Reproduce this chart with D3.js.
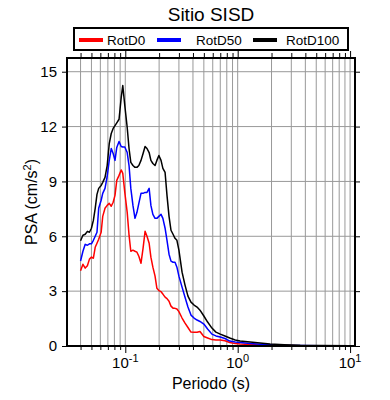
<!DOCTYPE html>
<html>
<head>
<meta charset="utf-8">
<script src="https://cdn.jsdelivr.net/npm/d3@7"></script>
<style>
body { margin: 0; background: #fff; }
text { font-family: "Liberation Sans", Arial, Helvetica, sans-serif; fill: #000; }
</style>
</head>
<body>
<div id="grafica"></div>
<script>
// datos (periodo en s, PSA en cm/s2)
const periods = [0.040, 0.042, 0.044, 0.046, 0.048, 0.050, 0.052, 0.054, 0.056, 0.058,
    0.061, 0.063, 0.066, 0.069, 0.072, 0.075, 0.078, 0.081, 0.084, 0.088,
    0.092, 0.095, 0.099, 0.104, 0.108, 0.112, 0.117, 0.122, 0.127, 0.132,
    0.138, 0.144, 0.150, 0.156, 0.163, 0.169, 0.176, 0.184, 0.191, 0.199,
    0.208, 0.216, 0.226, 0.235, 0.245, 0.255, 0.266, 0.277, 0.288, 0.300,
    0.320, 0.340, 0.361, 0.384, 0.409, 0.435, 0.462, 0.50, 0.54, 0.59,
    0.64, 0.70, 0.77, 0.85, 0.95, 1.05, 1.29, 1.58, 1.94, 2.6,
    3.6, 5.4, 10]

const rotD0 = [4.12, 4.47, 4.26, 4.39, 4.75, 4.86, 4.80, 5.40, 5.62, 5.84,
    6.22, 7.09, 7.53, 7.69, 7.80, 7.64, 7.86, 8.24, 9.06, 9.33,
    9.63, 9.44, 8.40, 7.31, 6.06, 5.18, 5.24, 5.18, 5.13, 4.91,
    4.53, 5.35, 6.27, 6.00, 5.62, 4.86, 4.31, 3.82, 3.16, 3.03,
    2.97, 2.84, 2.67, 2.59, 2.45, 2.18, 2.07, 2.06, 2.02, 1.88,
    1.53, 1.25, 1.01, 0.76, 0.75, 0.75, 0.79, 0.52, 0.44, 0.35,
    0.33, 0.33, 0.29, 0.19, 0.14, 0.11, 0.08, 0.05, 0.04, 0.03,
    0.02, 0.01, 0.005]

const rotD50 = [4.65, 5.18, 5.56, 5.51, 5.59, 5.59, 5.78, 6.00, 6.22, 7.53,
    7.97, 8.35, 8.62, 9.27, 10.15, 10.80, 10.53, 10.15, 10.86, 11.18,
    10.91, 10.88, 10.88, 10.58, 9.87, 8.62, 7.69, 6.98, 7.31, 7.80,
    8.35, 8.35, 8.40, 8.40, 8.62, 7.69, 7.20, 6.98, 6.98, 7.09,
    7.20, 6.98, 6.44, 5.78, 5.02, 4.64, 4.58, 4.58, 4.31, 3.82,
    3.22, 2.67, 2.13, 1.69, 1.53, 1.42, 1.34, 1.20, 0.93, 0.65,
    0.55, 0.49, 0.41, 0.27, 0.22, 0.19, 0.14, 0.10, 0.07, 0.04,
    0.03, 0.02, 0.01]

const rotD100 = [5.76, 6.06, 6.11, 6.27, 6.22, 6.44, 6.87, 7.53, 8.29, 8.62,
    8.78, 8.95, 9.22, 9.87, 11.07, 11.62, 11.90, 12.05, 12.20, 12.40,
    13.60, 14.24, 13.15, 11.95, 10.80, 10.04, 9.87, 9.77, 9.77, 9.87,
    10.15, 10.53, 10.91, 10.80, 10.58, 10.15, 9.98, 9.87, 10.15, 10.42,
    10.15, 9.71, 9.49, 8.24, 7.09, 6.33, 6.11, 5.89, 5.78, 5.24,
    4.04, 3.33, 2.73, 2.40, 2.24, 2.13, 1.96, 1.64, 1.31, 0.98,
    0.76, 0.65, 0.55, 0.44, 0.33, 0.27, 0.22, 0.16, 0.11, 0.07,
    0.04, 0.03, 0.02]

const seriesNames = ['RotD0', 'RotD50', 'RotD100']
const seriesColors = ['#ff0000', '#0000ff', '#000000']
const yTicks = [0, 3, 6, 9, 12, 15]
const xMajor = [0.1, 1, 10]
const xMajorLabels = ['-1', '0', '1']

const series = [rotD0, rotD50, rotD100]

const svgWidth = 390
const svgHeight = 400
const margin = { top: 58, right: 35, bottom: 54, left: 67 }
const chartWidth = svgWidth - margin.left - margin.right
const chartHeight = svgHeight - margin.top - margin.bottom

const scaleX = d3.scaleLog()
    .domain([0.0303, 11.06])
    .range([0, chartWidth])

const scaleY = d3.scaleLinear()
    .domain([0, 15.75])
    .range([chartHeight, 0])

// ticks menores (1..9 por decada)
const xMinor = []
for (let e = -2; e <= 1; e++) {
    for (let m = 1; m <= 9; m++) {
        const v = m * Math.pow(10, e)
        if (v > 0.0303 && v < 11.06) xMinor.push(v)
    }
}

const svg = d3.select('#grafica')
    .append('svg')
    .attr('width', svgWidth)
    .attr('height', svgHeight)

const g = svg.append('g')
    .attr('transform', `translate(${margin.left},${margin.top})`)

// grid
g.selectAll('.vgrid')
    .data(xMinor)
    .enter()
    .append('line')
    .attr('class', 'vgrid')
    .attr('x1', d => scaleX(d))
    .attr('x2', d => scaleX(d))
    .attr('y1', 0)
    .attr('y2', chartHeight)
    .style('stroke', '#999')
    .style('stroke-width', 1)

g.selectAll('.hgrid')
    .data(yTicks.filter(d => d > 0))
    .enter()
    .append('line')
    .attr('class', 'hgrid')
    .attr('x1', 0)
    .attr('x2', chartWidth)
    .attr('y1', d => scaleY(d))
    .attr('y2', d => scaleY(d))
    .style('stroke', '#999')
    .style('stroke-width', 1)

// curvas
const line = d3.line()
    .x((d, i) => scaleX(periods[i]))
    .y(d => scaleY(d))

g.selectAll('.curve')
    .data(series)
    .enter()
    .append('path')
    .attr('class', 'curve')
    .attr('d', line)
    .style('fill', 'none')
    .style('stroke', (d, i) => seriesColors[i])
    .style('stroke-width', 1.5)
    .style('stroke-linejoin', 'round')

// ejes
const axisBottom = d3.axisBottom(scaleX)
    .tickValues(xMinor)
    .tickSizeInner(4)
    .tickSizeOuter(0)
    .tickFormat('')

const axisTop = d3.axisTop(scaleX)
    .tickValues(xMinor)
    .tickSizeInner(5)
    .tickSizeOuter(0)
    .tickFormat('')

const axisLeft = d3.axisLeft(scaleY)
    .tickValues(yTicks)
    .tickSizeInner(5)
    .tickSizeOuter(0)
    .tickPadding(5)

const axisRight = d3.axisRight(scaleY)
    .tickValues(yTicks)
    .tickSizeInner(5)
    .tickSizeOuter(0)
    .tickFormat('')

const gBottom = g.append('g')
    .attr('transform', `translate(0,${chartHeight})`)
    .call(axisBottom)
gBottom.selectAll('.tick line')
    .attr('y2', d => xMajor.includes(d) ? 7 : 4)

const gTop = g.append('g').call(axisTop)
gTop.selectAll('.tick line')
    .attr('y2', d => xMajor.includes(d) ? -7 : -5)

const gLeft = g.append('g').call(axisLeft)
gLeft.selectAll('text')
    .style('font-size', '15px')
    .style('font-family', '"Liberation Sans", Arial, sans-serif')

g.append('g')
    .attr('transform', `translate(${chartWidth},0)`)
    .call(axisRight)

g.selectAll('.domain').remove()
g.selectAll('.tick line').style('stroke', '#000').style('stroke-width', 1)

// etiquetas eje x (10^n)
const xLab = g.selectAll('.xlab')
    .data(xMajor)
    .enter()
    .append('text')
    .attr('class', 'xlab')
    .attr('x', d => scaleX(d))
    .attr('y', chartHeight + 22)
    .attr('text-anchor', 'middle')
    .style('font-size', '15px')
xLab.append('tspan').text('10')
xLab.append('tspan')
    .attr('dy', -6)
    .style('font-size', '11px')
    .text((d, i) => xMajorLabels[i])

// marco
g.append('rect')
    .attr('width', chartWidth)
    .attr('height', chartHeight)
    .style('fill', 'none')
    .style('stroke', '#000')
    .style('stroke-width', 2)

// titulos
svg.append('text')
    .attr('x', margin.left + chartWidth / 2)
    .attr('y', 21)
    .attr('text-anchor', 'middle')
    .style('font-size', '19px')
    .text('Sitio SISD')

svg.append('text')
    .attr('x', margin.left + chartWidth / 2)
    .attr('y', 389)
    .attr('text-anchor', 'middle')
    .style('font-size', '16px')
    .text('Periodo (s)')

const yLab = svg.append('text')
    .attr('transform', `translate(37,${margin.top + chartHeight / 2}) rotate(-90)`)
    .attr('text-anchor', 'middle')
    .style('font-size', '16px')
yLab.append('tspan').text('PSA (cm/s')
yLab.append('tspan').attr('dy', -6).style('font-size', '11px').text('2')
yLab.append('tspan').attr('dy', 6).text(')')

// leyenda
const legend = svg.append('g')
svg.append('rect')
    .attr('x', 74)
    .attr('y', 28)
    .attr('width', 274)
    .attr('height', 22)
    .style('fill', '#fff')
    .style('stroke', '#000')
    .style('stroke-width', 2)
    .lower()

const legLineX = [79, 157, 253]
const legTextX = [107, 196, 286]
const legItem = svg.selectAll('.leg')
    .data(seriesNames)
    .enter()
    .append('g')
    .attr('class', 'leg')
legItem.append('line')
    .attr('x1', (d, i) => legLineX[i])
    .attr('x2', (d, i) => legLineX[i] + 24)
    .attr('y1', 40)
    .attr('y2', 40)
    .style('stroke', (d, i) => seriesColors[i])
    .style('stroke-width', 4)
legItem.append('text')
    .attr('x', (d, i) => legTextX[i])
    .attr('y', 44.5)
    .style('font-size', '13.5px')
    .text(d => d)
</script>
</body>
</html>
